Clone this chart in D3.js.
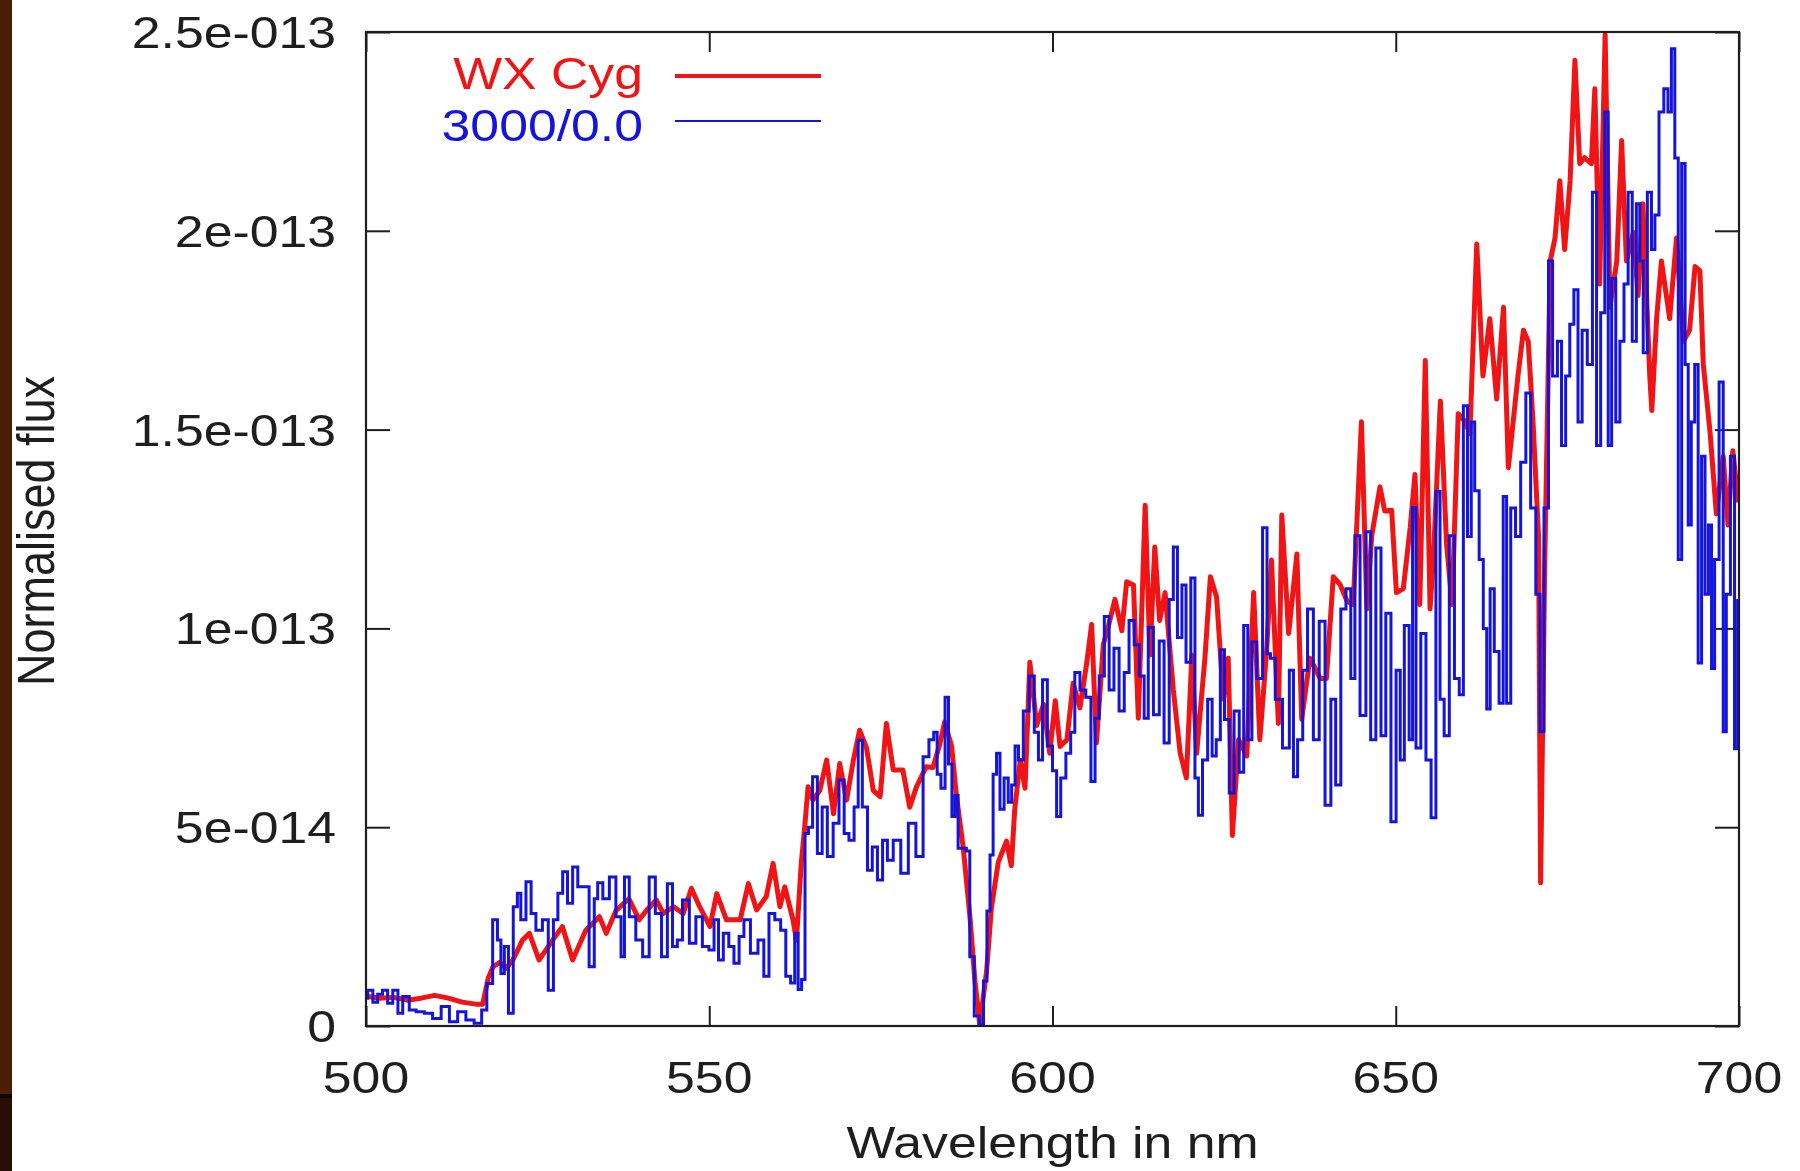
<!DOCTYPE html>
<html>
<head>
<meta charset="utf-8">
<script src="https://cdn.jsdelivr.net/npm/d3@7"></script>
<style>
  html, body { margin: 0; padding: 0; background: #ffffff; }
  svg { display: block; }
  text { font-family: "Liberation Sans", Arial, sans-serif; }
</style>
</head>
<body>
<svg id="chart" width="1800" height="1171"></svg>
<script>
// ---- data (flux in units of 1e-14) ----
const xTickValues = [500, 550, 600, 650, 700];
const xTickLabels = ["500", "550", "600", "650", "700"];
const yTickValues = [0, 5, 10, 15, 20, 25];
const yTickLabels = ["0", "5e-014", "1e-013", "1.5e-013", "2e-013", "2.5e-013"];
const seriesNames = ["WX Cyg", "3000/0.0"];
const xLabel = "Wavelength in nm";
const yLabel = "Normalised flux";

const redWl = [500,502,504,506,508,510,512,514,516,517,517.8,518.5,519.5,520.4,521.4,522.8,523.8,525.2,527.2,528.6,530.1,532,534,535,536.4,538.3,539.8,
540.9,542.3,543.3,544.8,546.2,547.4,548.6,550.1,551.1,552.5,554.5,555.7,556.9,558.3,559.3,560.3,561.0,562.2,562.7,563.4,563.9,564.4,565.1,566.1,567.1,568.1,569.0,570.0,571.0,571.9,572.9,573.9,574.9,575.8,576.8,578.2,579.2,580.2,581.6,
582.6,583.6,584.3,585.3,586,587,588,588.7,589.4,590.4,591.1,592.1,593.3,594.0,594.5,595.3,596,596.7,597.7,598.7,599.6,600.4,601.1,602.1,603,604,605,605.7,606.4,607.4,608.1,609.1,610.1,610.8,611.8,612.5,613.5,614.2,614.9,615.6,616.4,617.6,618.6,619.5,620.3,621,
622.2,623,623.9,624.9,625.6,626.2,627.1,628.3,629.3,630.2,631.2,631.9,632.9,633.4,634.4,635.6,636.3,637.5,639,639.9,640.9,641.9,642.9,643.8,645,645.8,646.5,647.7,648.4,649.4,650.1,651.1,652.1,652.8,653.5,654.3,655,655.5,656.5,657.4,658.2,659.1,660.1,
660.8,661.8,662.7,663.7,664.7,665.7,666.4,667.1,667.8,668.6,669.3,670,670.8,671.1,671.7,672.5,673.2,673.9,674.6,675.4,676.1,676.8,677.5,678.5,679,679.7,680.5,681.2,682.2,682.9,683.6,684.6,685.3,686,687,687.3,688,688.7,689.9,690.9,691.9,692.8,693.6,694.3,694.8,695.8,696.7,697.7,698.4,699.1,699.9];
const redFlux = [0.75,0.7,0.72,0.65,0.7,0.77,0.7,0.6,0.55,0.55,1.2,1.49,1.6,1.45,1.66,2.16,2.33,1.66,2.16,2.5,1.66,2.4,2.75,2.33,2.9,3.2,2.67,
2.92,3.17,2.83,3.0,2.83,3.46,3.0,2.5,3.33,2.67,2.67,3.58,2.92,3.25,4.09,3.0,3.5,2.67,2.16,4.09,5.0,6.02,5.68,5.92,6.69,5.34,6.6,5.68,6.69,7.44,7.0,5.92,5.77,7.61,6.44,6.44,5.5,6.02,6.52,
6.5,7.1,7.65,7.04,5.8,4.48,2.7,1.13,0.03,1.38,2.97,4.12,4.65,4.03,5.45,6.68,5.98,9.15,7.56,8.09,6.86,8.18,7.03,7.2,8.62,8.0,9.15,10.1,7.12,9.59,10.03,10.73,9.94,11.17,11.09,7.74,13.1,9.33,12.05,10.2,10.9,8.45,6.86,6.24,9.33,6.86,
9.25,11.3,10.79,8.22,9.25,4.79,7.2,6.79,10.9,7.2,9.46,11.72,7.61,12.85,9.87,11.87,7.71,9.25,8.74,8.74,11.3,11.1,10.69,10.6,15.2,10.49,12.33,13.56,12.95,12.97,10.9,11.0,12.53,13.87,10.6,16.74,10.49,11.82,15.72,12.13,10.6,15.4,15.2,
14.9,19.67,16.35,17.79,15.77,18.08,14.04,15.19,16.35,17.5,17.22,15.19,12.31,3.6,11.6,19.24,19.82,21.26,19.53,21.26,24.29,21.69,21.84,21.69,23.57,18.66,24.94,18.08,19.24,22.27,19.24,19.96,18.37,20.68,16.35,15.48,17.79,19.24,17.79,19.82,17.22,17.5,19.1,19.0,16.64,14.9,12.88,14.33,12.6,14.47,13.17];

const blueWl = [500,500.5,501.5,501.9,502.9,503.4,504.4,504.9,505.8,506.8,507.8,509.2,510.2,511.7,512.6,514.1,515,516.5,517.2,518,518.9,519.4,519.9,520.4,521.1,521.8,522.3,522.8,523.8,524.3,525.2,526.2,526.9,527.7,528.2,529.1,529.6,530.6,531.1,532,533,533.5,534,535,535.9,536.9,537.4,537.9,538.8,539.8,540.8,541.7,
542.6,543.5,544.3,545.0,545.7,546.5,547.7,548.4,549.6,550.3,551.1,551.6,552.5,553.2,554.0,554.7,555.4,556.6,557.6,558.3,559.1,560.0,560.8,561.5,562.2,562.7,563.2,563.7,564.2,564.7,565.4,566.1,566.8,567.6,568.5,569.3,570.0,570.7,571.5,571.9,572.7,573.4,574.1,574.9,575.6,576.3,577.3,578.5,579.5,580.7,581.6,
582.4,583,583.4,584.1,584.6,585.1,585.6,586.0,586.5,587.2,587.7,588.2,589,589.7,590.2,590.7,591.1,591.6,592.1,592.6,593.3,593.8,594.3,594.8,595.3,596.2,597,597.7,598.2,598.9,599.6,600.4,600.8,601.6,602.3,603,603.5,604.5,605.2,606,606.4,607.2,607.9,608.6,609.3,610.1,610.8,611.5,612.3,613,613.7,614.2,615.2,615.9,616.6,617.4,617.8,618.6,619.1,619.8,620.5,621,621.5,
622.2,623,623.5,624.2,624.7,625.4,626.1,626.8,627.6,628.1,628.8,629.3,630.2,631,631.5,632.0,632.9,634.1,634.9,635.3,636.1,636.8,637.5,638.5,639.2,640.2,640.9,641.6,642.4,643.1,643.8,644.3,645.3,646,646.7,647.5,648.2,648.9,649.7,650.4,650.9,651.6,652.3,652.6,653.3,654,654.8,655.5,656.2,656.7,657.4,658.2,658.9,659.6,660.1,
660.8,661.2,661.8,662.5,663,663.5,664,664.7,665.4,665.9,666.4,667.1,667.8,668.6,669.3,670,670.8,671.2,672,672.5,673.2,673.9,674.4,675.1,675.6,676.3,676.8,677.5,678.3,679,679.5,680.2,680.7,681.2,681.7,682.4,682.9,683.6,684.1,684.8,685.3,685.8,686.3,687,687.5,688,688.7,689.4,689.9,690.4,690.9,691.4,691.9,692.4,692.8,693.3,693.8,694.3,694.8,695.3,695.8,696.2,696.7,697.5,697.9,698.4,699.1,699.6,700];
const blueFlux = [0.7,0.9,0.6,0.8,0.9,0.57,0.9,0.32,0.74,0.4,0.36,0.32,0.19,0.49,0.11,0.36,0.15,0.07,0.4,1.07,2.67,2.16,1.32,2.0,0.32,3.0,3.34,2.67,3.63,2.83,2.41,2.67,0.9,2.67,3.34,3.88,3.09,4.0,3.5,3.5,1.49,3.2,3.6,3.2,3.75,2.75,1.74,3.75,2.75,2.16,1.74,3.75,
2.83,1.74,3.58,2.0,2.16,3.17,2.08,2.75,2.0,1.91,2.67,1.66,2.33,2.0,1.58,2.25,2.67,1.83,2.16,1.25,2.83,2.67,2.41,1.25,1.08,2.33,0.92,1.17,4.84,5.0,6.27,4.34,5.51,4.26,5.1,6.19,4.84,4.67,5.51,7.19,5.51,3.92,4.5,3.67,4.67,4.17,4.67,3.84,5.1,4.26,6.77,
7.2,7.39,6.33,5.98,8.27,6.59,5.27,5.8,4.47,4.47,4.4,1.74,0.25,0.03,1.13,2.89,4.3,6.33,6.86,5.45,6.24,5.63,6.06,7.04,6.69,7.92,8.8,7.39,6.69,8.71,7.04,6.42,5.27,6.24,6.86,7.39,8.89,8.45,8.27,6.15,7.74,8.8,10.3,8.45,9.5,7.92,8.89,10.2,9.59,8.8,7.74,10.03,7.83,9.68,7.12,10.73,12.05,9.77,11.09,9.15,11.27,6.24,5.3,
6.69,8.22,6.79,7.2,9.46,7.71,5.86,7.92,6.38,10.07,7.2,9.66,8.74,12.53,9.36,9.25,8.22,6.99,8.95,6.27,7.2,8.95,10.49,7.2,10.18,5.55,8.22,6.06,10.49,11.0,8.74,12.33,7.81,12.43,7.2,12.02,7.3,10.38,5.14,8.95,6.69,10.07,7.2,13.04,6.99,9.87,6.69,5.24,13.45,8.22,7.3,12.33,8.74,8.33,15.6,
12.31,15.19,13.46,11.73,10.0,7.97,11.0,9.42,8.12,13.32,8.12,13.03,12.31,14.18,15.92,13.03,10.86,7.4,13.03,19.24,16.35,17.22,14.6,16.35,17.65,18.52,15.19,17.5,16.64,20.97,14.6,17.94,22.99,14.6,18.8,15.19,17.22,18.66,20.97,17.22,20.68,19.24,16.93,20.97,19.53,20.4,22.99,23.57,22.99,24.58,21.83,11.73,21.69,16.64,12.6,15.19,16.64,9.13,14.33,10.86,12.6,8.99,11.73,16.2,7.4,10.86,14.33,6.97,10.7];

// ---- layout ----
const W = 1800, H = 1171;
const X0 = 366, X1 = 1739, Y0 = 32, Y1 = 1026;
const SX = 1.15; // horizontal stretch of the original text
const FS = 45;
const RED = "#f01414", BLUE = "#1414dc", INK = "#1e1e1e";

const svg = d3.select("#chart");
svg.append("rect").attr("x", 0).attr("y", 0).attr("width", W).attr("height", H).attr("fill", "#ffffff");
// left dark strip
svg.append("rect").attr("x", 0).attr("y", 0).attr("width", 12).attr("height", 1096).attr("fill", "#4e1d07");
svg.append("rect").attr("x", 0).attr("y", 1096).attr("width", 12).attr("height", H - 1096).attr("fill", "#2a0d04");
svg.append("rect").attr("x", 0).attr("y", 1094).attr("width", 12).attr("height", 4).attr("fill", "#0e0402");

const x = d3.scaleLinear().domain([500, 700]).range([X0, X1]);
const y = d3.scaleLinear().domain([0, 25]).range([Y1, Y0]);

svg.append("defs").append("clipPath").attr("id", "clip")
  .append("rect").attr("x", X0).attr("y", Y0 - 2).attr("width", X1 - X0).attr("height", Y1 - Y0 + 2);

// ticks (mirrored, inward)
function styleAxis(g) {
  g.select(".domain").remove();
  g.selectAll(".tick line").attr("stroke", INK).attr("stroke-width", 2);
  g.selectAll(".tick text").remove();
}
svg.append("g").attr("transform", `translate(0,${Y1})`)
  .call(d3.axisBottom(x).tickValues(xTickValues).tickSize(-20).tickFormat("")).call(styleAxis);
svg.append("g").attr("transform", `translate(0,${Y0})`)
  .call(d3.axisTop(x).tickValues(xTickValues).tickSize(-20).tickFormat("")).call(styleAxis);
svg.append("g").attr("transform", `translate(${X0},0)`)
  .call(d3.axisLeft(y).tickValues(yTickValues).tickSize(-24).tickFormat("")).call(styleAxis);
svg.append("g").attr("transform", `translate(${X1},0)`)
  .call(d3.axisRight(y).tickValues(yTickValues).tickSize(-24).tickFormat("")).call(styleAxis);

// tick labels
svg.append("g").selectAll("text").data(xTickValues).join("text")
  .attr("transform", d => `translate(${x(d)},1093) scale(${SX},1)`)
  .attr("text-anchor", "middle").attr("font-size", FS).attr("fill", INK)
  .text((d, i) => xTickLabels[i]);
svg.append("g").selectAll("text").data(yTickValues).join("text")
  .attr("transform", d => `translate(336,${y(d) + 16}) scale(${SX},1)`)
  .attr("text-anchor", "end").attr("font-size", FS).attr("fill", INK)
  .text((d, i) => yTickLabels[i]);

// axis titles
svg.append("text").attr("transform", `translate(${(X0 + X1) / 2},1158) scale(${SX},1)`)
  .attr("text-anchor", "middle").attr("font-size", FS).attr("fill", INK).text(xLabel);
svg.append("text").attr("transform", `translate(54,${(Y0 + Y1) / 2 + 2}) rotate(-90) scale(1,${SX})`)
  .attr("text-anchor", "middle").attr("font-size", FS).attr("fill", INK).text(yLabel);

// series
const redData = redWl.map((w, i) => [w, redFlux[i]]);
const blueData = blueWl.map((w, i) => [w, blueFlux[i]]);
const plot = svg.append("g").attr("clip-path", "url(#clip)");
plot.append("path").datum(redData)
  .attr("d", d3.line().x(d => x(d[0])).y(d => y(d[1])))
  .attr("fill", "none").attr("stroke", RED).attr("stroke-width", 5).attr("stroke-linejoin", "round");
plot.append("path").datum(blueData)
  .attr("d", d3.line().curve(d3.curveStep).x(d => x(d[0])).y(d => y(d[1])))
  .attr("fill", "none").attr("stroke", BLUE).attr("stroke-width", 3);

// frame
svg.append("rect").attr("x", X0).attr("y", Y0).attr("width", X1 - X0).attr("height", Y1 - Y0)
  .attr("fill", "none").attr("stroke", INK).attr("stroke-width", 2.2);

// legend
const legend = [
  { name: seriesNames[0], color: RED, width: 4, cy: 76, ty: 73 },
  { name: seriesNames[1], color: BLUE, width: 2, cy: 121, ty: 125 }
];
const lg = svg.append("g");
legend.forEach(l => {
  lg.append("text").attr("transform", `translate(643,${l.ty + 16}) scale(${SX},1)`)
    .attr("text-anchor", "end").attr("font-size", FS).attr("fill", l.color).text(l.name);
  lg.append("line").attr("x1", 675).attr("x2", 821).attr("y1", l.cy).attr("y2", l.cy)
    .attr("stroke", l.color).attr("stroke-width", l.width);
});
</script>
</body>
</html>
